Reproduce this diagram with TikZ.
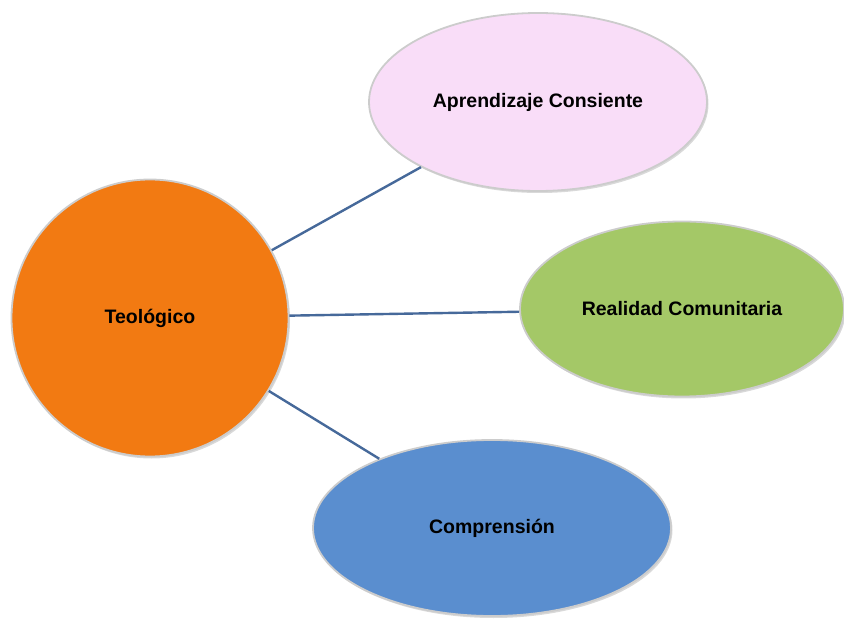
\documentclass[tikz,border=0pt]{standalone}
\usepackage{fontspec}
\setmainfont{Liberation Sans}
\usetikzlibrary{shapes.geometric,shadows}

\definecolor{naranja}{HTML}{F27A12}
\definecolor{rosa}{HTML}{F9DDF8}
\definecolor{verde}{HTML}{A4C867}
\definecolor{azul}{HTML}{5A8ECF}
\definecolor{linea}{HTML}{46699A}

\begin{document}
\begin{tikzpicture}[x=1pt,y=-1pt,
	burbuja/.style={draw=gray!40,line width=1.8pt,font=\fontsize{19.5}{23}\selectfont\bfseries,
		drop shadow={shadow xshift=1.5pt,shadow yshift=-2pt,opacity=0.3}},
	rama/.style={draw=linea,line width=2.4pt}]
  \useasboundingbox (0,0) rectangle (844,620);

\node[burbuja,circle,fill=naranja,minimum size=277pt] (teo) at (150,318) {Teológico};
\node[burbuja,ellipse,fill=rosa,minimum width=338pt,minimum height=178pt] (apr) at (538,102) {Aprendizaje Consiente};
\node[burbuja,ellipse,fill=verde,minimum width=324pt,minimum height=175pt] (rea) at (682,309) {Realidad Comunitaria};
\node[burbuja,ellipse,fill=azul,minimum width=358pt,minimum height=176pt] (com) at (492,528) {Comprensión};

  \draw[rama] (teo) -- (apr);
  \draw[rama] (teo) -- (rea);
  \draw[rama] (teo) -- (com);

\end{tikzpicture}
\end{document}
